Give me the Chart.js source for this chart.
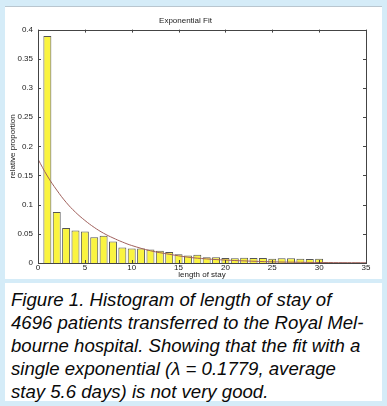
<!DOCTYPE html>
<html>
<head>
<meta charset="utf-8">
<script src="https://cdn.jsdelivr.net/npm/chart.js@4/dist/chart.umd.min.js"></script>
<style>
  html, body { margin: 0; padding: 0; }
  body { width: 387px; height: 406px; background: #d5ecf8; position: relative; overflow: hidden; }
  #chartPanel { position: absolute; left: 5px; top: 6px; width: 377px; height: 273px; background: #ffffff; border-top: 1px solid #b9c6cf; box-sizing: border-box; }
  #captionPanel { position: absolute; left: 5px; top: 283px; width: 377px; height: 118px; background: #ffffff; }
  #caption { position: absolute; left: 6px; top: 5px; margin: 0; font-family: "Liberation Sans", Arial, sans-serif; font-style: italic; font-size: 18.6px; line-height: 23px; color: #0a0a0a; white-space: pre; }
</style>
</head>
<body>
<div id="chartPanel"><canvas id="fitChart" width="377" height="273"></canvas></div>
<div id="captionPanel">
<p id="caption">Figure 1. Histogram of length of stay of
4696 patients transferred to the Royal Mel-
bourne hospital. Showing that the fit with a
single exponential (λ = 0.1779, average
stay 5.6 days) is not very good.</p>
</div>
<script>
// values
const stayDays = [1, 2, 3, 4, 5, 6, 7, 8, 9, 10, 11, 12, 13, 14, 15, 16, 17, 18, 19, 20,
    21, 22, 23, 24, 25, 26, 27, 28, 29, 30, 31, 32, 33, 34];
const proportion = [0.389, 0.0875, 0.060, 0.0557, 0.054, 0.044, 0.0466, 0.037, 0.0267, 0.025,
    0.025, 0.023, 0.021, 0.019, 0.0148, 0.013, 0.014, 0.010, 0.010, 0.0085,
    0.008, 0.009, 0.0085, 0.0085, 0.0074, 0.008, 0.008, 0.0074, 0.0068, 0.0074,
    0.0015, 0.001, 0.001, 0.001];

const fitX = [0, 1, 2, 3, 4, 5, 6, 7, 8, 9, 10, 12, 14, 16, 18, 20, 22, 25, 28, 31, 35];
const fitY = [0.178, 0.149, 0.125, 0.104, 0.087, 0.073, 0.061, 0.051, 0.043, 0.036, 0.030,
    0.021, 0.015, 0.010, 0.007, 0.005, 0.0036, 0.002, 0.0012, 0.0007, 0.0004];

const xTicks = [0, 5, 10, 15, 20, 25, 30, 35];
const yTicks = [0, 0.05, 0.1, 0.15, 0.2, 0.25, 0.3, 0.35, 0.4];

// MATLAB-style box with inward ticks on all sides
const boxTicks = {
    id: 'boxTicks',
    afterDraw(chart) {
        const ctx = chart.ctx;
        const a = chart.chartArea;
        const xs = chart.scales.x;
        const ys = chart.scales.y;
        ctx.save();
        ctx.strokeStyle = '#444';
        ctx.lineWidth = 1;
        ctx.strokeRect(Math.round(a.left) + 0.5, Math.round(a.top) + 0.5,
            Math.round(a.right - a.left), Math.round(a.bottom - a.top));
        ctx.beginPath();
        xTicks.forEach(v => {
            const px = Math.round(xs.getPixelForValue(v)) + 0.5;
            ctx.moveTo(px, a.bottom); ctx.lineTo(px, a.bottom - 3);
            ctx.moveTo(px, a.top); ctx.lineTo(px, a.top + 3);
        });
        yTicks.forEach(v => {
            const py = Math.round(ys.getPixelForValue(v)) + 0.5;
            ctx.moveTo(a.left, py); ctx.lineTo(a.left + 3, py);
            ctx.moveTo(a.right, py); ctx.lineTo(a.right - 3, py);
        });
        ctx.stroke();
        ctx.restore();
    }
};

const tickFont = { family: 'Liberation Sans, Arial, sans-serif', size: 8 };
const smallFont = { family: 'Liberation Sans, Arial, sans-serif', size: 8, weight: 'normal' };

new Chart(document.getElementById('fitChart'), {
    type: 'bar',
    data: {
        datasets: [{
            type: 'line',
            label: 'exponential fit',
            data: fitX.map((x, i) => ({ x: x, y: fitY[i] })),
            borderColor: '#a0605c',
            borderWidth: 1,
            pointRadius: 0,
            tension: 0.4,
            fill: false
        }, {
            label: 'relative proportion',
            data: stayDays.map((d, i) => ({ x: d, y: proportion[i] })),
            backgroundColor: '#faf440',
            borderColor: '#555',
            borderWidth: 1,
            barPercentage: 0.85,
            categoryPercentage: 1.0
        }]
    },
    options: {
        responsive: false,
        animation: false,
        events: [],
        layout: { padding: { left: 0, right: 16, top: 0, bottom: 0 } },
        scales: {
            x: {
                type: 'linear',
                min: 0,
                max: 35,
                offset: false,
                grid: { display: false, drawTicks: false },
                border: { display: false },
                afterBuildTicks: scale => { scale.ticks = xTicks.map(v => ({ value: v })); },
                ticks: { font: tickFont, color: '#222', padding: 0, maxRotation: 0 },
                title: { display: true, text: 'length of stay', font: smallFont, color: '#222', padding: { top: 0, bottom: 0 } },
                afterFit: scale => { scale.height = 17; }
            },
            y: {
                min: 0,
                max: 0.4,
                grid: { display: false, drawTicks: false },
                border: { display: false },
                afterBuildTicks: scale => { scale.ticks = yTicks.map(v => ({ value: v })); },
                ticks: { font: tickFont, color: '#222', padding: 5, callback: v => String(Number(v.toFixed(2))) },
                title: { display: true, text: 'relative proportion', font: smallFont, color: '#222', padding: { top: 3, bottom: 0 } },
                afterFit: scale => { scale.width = 33; }
            }
        },
        plugins: {
            legend: { display: false },
            tooltip: { enabled: false },
            title: {
                display: true,
                text: 'Exponential Fit',
                font: smallFont,
                color: '#222',
                padding: { top: 9, bottom: 4 }
            }
        }
    },
    plugins: [boxTicks]
});
</script>
</body>
</html>
